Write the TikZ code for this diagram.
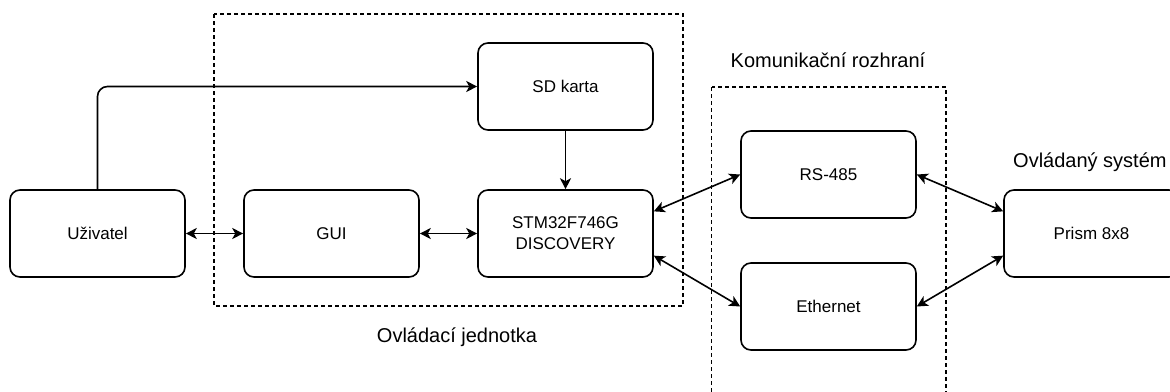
\documentclass[tikz,border=0pt]{standalone}
\usepackage{fontspec}
\setmainfont{Liberation Sans}
\usetikzlibrary{arrows.meta,calc}
\begin{document}
\begin{tikzpicture}[x=1pt,y=-1pt,
  box/.style={draw, line width=1.6pt, rounded corners=10pt, minimum width=175pt, minimum height=87pt,
    font=\fontsize{17}{21}\selectfont, align=center, inner sep=0pt},
  tip/.tip={Stealth[length=11pt,width=11pt,inset=3pt]},
  conn/.style={line width=1.6pt, -tip},
  biconn/.style={line width=1.6pt, tip-tip},
  groupbox/.style={draw, dash pattern=on 4pt off 3pt, line width=1.4pt},
  lbl/.style={font=\fontsize{20}{24}\selectfont, inner sep=0pt}]
\useasboundingbox (0,0) rectangle (1170,391);
% groups
\draw[groupbox] (214,14) rectangle (683,306);
\draw[groupbox] (711.5,87) rectangle (946,400);
\node[lbl] (lctrl) at (457,337) {Ovládací jednotka};
\node[lbl] (lcomm) at (828,60) {Komunikační rozhraní};
\node[lbl, anchor=west] (lsys) at (1013,162) {Ovládaný systém};
% boxes
\node[box] (uz) at (97.5,233.5) {Uživatel};
\node[box] (gui) at (331.5,233.5) {GUI};
\node[box] (stm) at (565.5,233.5) {STM32F746G\\DISCOVERY};
\node[box] (sd) at (565.5,86.5) {SD karta};
\node[box] (rs) at (828.5,174.5) {RS-485};
\node[box] (eth) at (828.5,306.5) {Ethernet};
\node[box] (pr) at (1091.5,233.5) {Prism 8x8};
% connectors
\draw[conn, rounded corners=10pt] (uz.north) |- (sd.west);
\draw[biconn] (uz.east) -- (gui.west);
\draw[biconn] (gui.east) -- (stm.west);
\draw[conn] (sd.south) -- (stm.north);
\draw[biconn] ($(stm.north east)!0.25!(stm.south east)$) -- (rs.west);
\draw[biconn] ($(stm.north east)!0.75!(stm.south east)$) -- (eth.west);
\draw[biconn] (rs.east) -- ($(pr.north west)!0.25!(pr.south west)$);
\draw[biconn] (eth.east) -- ($(pr.north west)!0.75!(pr.south west)$);
\end{tikzpicture}
\end{document}
